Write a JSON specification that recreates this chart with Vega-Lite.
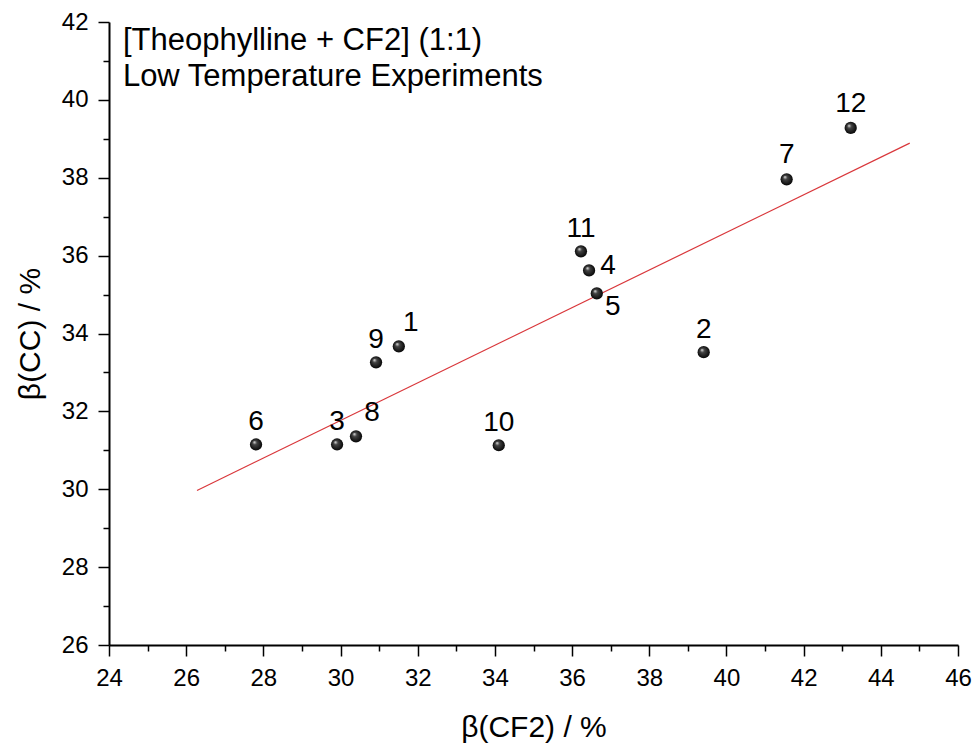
{
  "$schema": "https://vega.github.io/schema/vega-lite/v6.json",
  "autosize": {"type": "none"},
  "padding": {"left": 109, "top": 22, "right": 19, "bottom": 102},
  "width": 849,
  "height": 623,
  "background": "white",
  "config": {
    "view": {"stroke": null},
    "font": "Liberation Sans"
  },
  "datasets": {
    "pts": [
      {"label": "1", "cf2": 31.51, "cc": 33.67},
      {"label": "2", "cf2": 39.41, "cc": 33.52},
      {"label": "3", "cf2": 29.91, "cc": 31.15},
      {"label": "4", "cf2": 36.44, "cc": 35.62},
      {"label": "5", "cf2": 36.64, "cc": 35.03},
      {"label": "6", "cf2": 27.81, "cc": 31.15},
      {"label": "7", "cf2": 41.56, "cc": 37.96},
      {"label": "8", "cf2": 30.4, "cc": 31.36},
      {"label": "9", "cf2": 30.92, "cc": 33.26},
      {"label": "10", "cf2": 34.1, "cc": 31.13},
      {"label": "11", "cf2": 36.23, "cc": 36.11},
      {"label": "12", "cf2": 43.22, "cc": 39.28}
    ],
    "fit": [
      {"cf2": 26.28, "cc": 29.97},
      {"cf2": 44.75, "cc": 38.89}
    ],
    "notes": [
      {"text": "[Theophylline + CF2] (1:1)", "cf2": 24.36, "cc": 41.27},
      {"text": "Low Temperature Experiments", "cf2": 24.36, "cc": 40.35}
    ]
  },
  "encoding": {
    "x": {
      "field": "cf2", "type": "quantitative",
      "scale": {"domain": [24, 46], "nice": false, "zero": false},
      "axis": {
        "title": "β(CF2) / %",
        "values": [24,25,26,27,28,29,30,31,32,33,34,35,36,37,38,39,40,41,42,43,44,45,46],
        "labelExpr": "datum.value % 2 === 0 ? datum.label : ''",
        "labelFlush": false,
        "labelOverlap": false,
        "tickSize": {"condition": {"test": "datum.value % 2 === 0", "value": 11}, "value": 6},
        "tickWidth": 1.5, "tickColor": "black",
        "domainColor": "black", "domainWidth": 2,
        "grid": false,
        "labelFontSize": 24, "labelColor": "black", "labelPadding": 10,
        "titleFontSize": 30, "titleFontWeight": "normal", "titleColor": "black", "titlePadding": 22
      }
    },
    "y": {
      "field": "cc", "type": "quantitative",
      "scale": {"domain": [26, 42], "nice": false, "zero": false},
      "axis": {
        "title": "β(CC) / %",
        "values": [26,27,28,29,30,31,32,33,34,35,36,37,38,39,40,41,42],
        "labelExpr": "datum.value % 2 === 0 ? datum.label : ''",
        "labelFlush": false,
        "labelOverlap": false,
        "tickSize": {"condition": {"test": "datum.value % 2 === 0", "value": 11}, "value": 6},
        "tickWidth": 1.5, "tickColor": "black",
        "domainColor": "black", "domainWidth": 2,
        "grid": false,
        "labelFontSize": 24, "labelColor": "black", "labelPadding": 10,
        "titleFontSize": 30, "titleFontWeight": "normal", "titleColor": "black", "titlePadding": 16
      }
    }
  },
  "layer": [
    {
      "data": {"name": "fit"},
      "mark": {"type": "line", "color": "#d9373b", "strokeWidth": 1.2},
      "encoding": {}
    },
    {
      "data": {"name": "pts"},
      "mark": {
        "type": "point", "filled": true, "size": 150, "opacity": 1,
        "color": {
          "gradient": "radial",
          "x1": 0.35, "y1": 0.3, "r1": 0,
          "x2": 0.5, "y2": 0.5, "r2": 0.55,
          "stops": [
            {"offset": 0, "color": "#f0f0f0"},
            {"offset": 0.3, "color": "#444444"},
            {"offset": 1, "color": "#000000"}
          ]
        }
      },
      "encoding": {}
    },
    {
      "data": {"name": "pts"},
      "transform": [{"filter": {"field": "label", "oneOf": ["2", "3", "6", "9", "10", "11"]}}],
      "mark": {"type": "text", "fontSize": 28, "dy": -22, "color": "black"},
      "encoding": {"text": {"field": "label"}}
    },
    {
      "data": {"name": "pts"},
      "transform": [{"filter": {"field": "label", "oneOf": ["7", "12"]}}],
      "mark": {"type": "text", "fontSize": 28, "dy": -24, "color": "black"},
      "encoding": {"text": {"field": "label"}}
    },
    {
      "data": {"name": "pts"},
      "transform": [{"filter": {"field": "label", "oneOf": ["1"]}}],
      "mark": {"type": "text", "fontSize": 28, "dx": 12, "dy": -23, "color": "black"},
      "encoding": {"text": {"field": "label"}}
    },
    {
      "data": {"name": "pts"},
      "transform": [{"filter": {"field": "label", "oneOf": ["8"]}}],
      "mark": {"type": "text", "fontSize": 28, "dx": 16, "dy": -23, "color": "black"},
      "encoding": {"text": {"field": "label"}}
    },
    {
      "data": {"name": "pts"},
      "transform": [{"filter": {"field": "label", "oneOf": ["4"]}}],
      "mark": {"type": "text", "fontSize": 28, "dx": 19, "dy": -4, "color": "black"},
      "encoding": {"text": {"field": "label"}}
    },
    {
      "data": {"name": "pts"},
      "transform": [{"filter": {"field": "label", "oneOf": ["5"]}}],
      "mark": {"type": "text", "fontSize": 28, "dx": 16, "dy": 14, "color": "black"},
      "encoding": {"text": {"field": "label"}}
    },
    {
      "data": {"name": "notes"},
      "mark": {"type": "text", "fontSize": 31, "align": "left", "baseline": "alphabetic", "color": "black"},
      "encoding": {"text": {"field": "text"}}
    }
  ]
}
